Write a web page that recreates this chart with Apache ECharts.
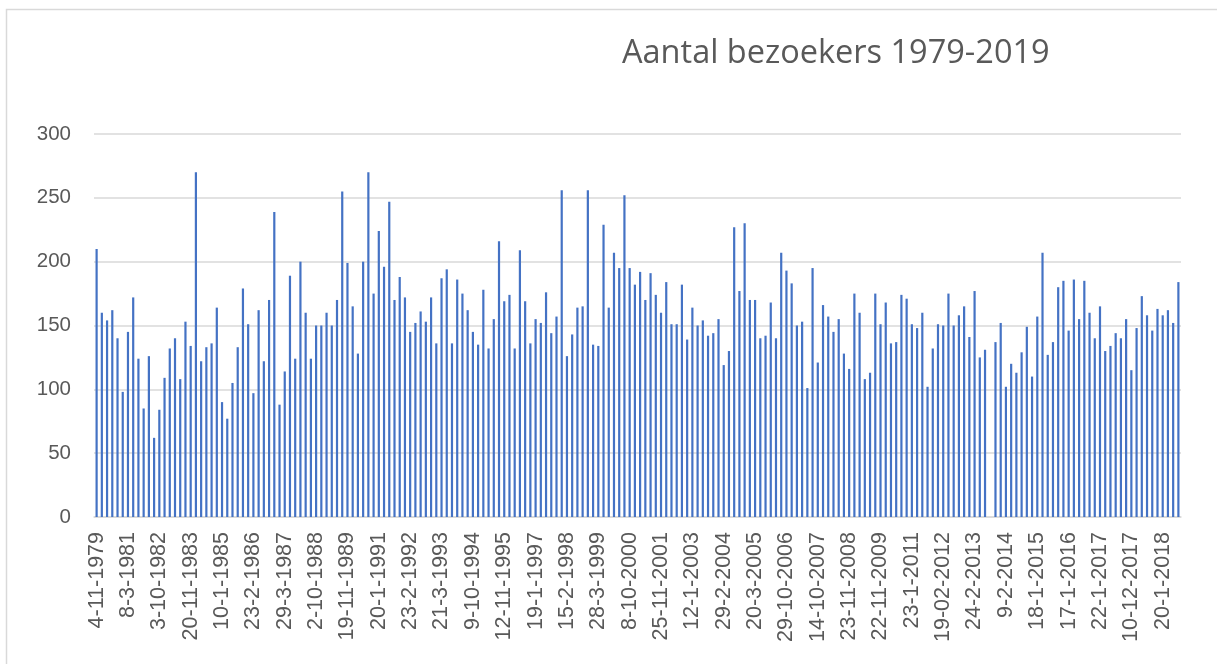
<!DOCTYPE html>
<html>
<head>
<meta charset="utf-8">
<script src="https://cdn.jsdelivr.net/npm/echarts@6/dist/echarts.min.js"></script>
<style>
  html, body { margin: 0; padding: 0; background: #fff; }
  #box { width: 1217px; height: 664px; }
</style>
</head>
<body>
<div id="box"></div>
<script>
// tick labels shown under every 6th bar
var tickLabels = ['4-11-1979', '8-3-1981', '3-10-1982', '20-11-1983', '10-1-1985', '23-2-1986',
    '29-3-1987', '2-10-1988', '19-11-1989', '20-1-1991', '23-2-1992', '21-3-1993',
    '9-10-1994', '12-11-1995', '19-1-1997', '15-2-1998', '28-3-1999', '8-10-2000',
    '25-11-2001', '12-1-2003', '29-2-2004', '20-3-2005', '29-10-2006', '14-10-2007',
    '23-11-2008', '22-11-2009', '23-1-2011', '19-02-2012', '24-2-2013', '9-2-2014',
    '18-1-2015', '17-1-2016', '22-1-2017', '10-12-2017', '20-1-2018']
var labelStep = 6

// visitors per meeting
var visitors1979 = [210, 160, 154, 162, 140, 98, 145, 172, 124, 85, 126, 62, 84, 109, 132, 140, 108, 153,
    134, 270, 122, 133, 136, 164, 90, 77, 105, 133, 179, 151, 97, 162, 122, 170, 239]
var visitors1987 = [88, 114, 189, 124, 200, 160, 124, 150, 150, 160, 150, 170, 255, 199, 165, 128, 200, 270,
    175, 224, 196, 247, 170, 188, 172, 145, 152, 161, 153, 172, 136, 187, 194, 136, 186]
var visitors1994 = [175, 162, 145, 135, 178, 132, 155, 216, 169, 174, 132, 209, 169, 136, 155, 152, 176, 144,
    157, 256, 126, 143, 164, 165, 256, 135, 134, 229, 164, 207, 195, 252, 195, 182, 192, 170]
var visitors2001 = [191, 174, 160, 184, 151, 151, 182, 139, 164, 150, 154, 142, 144, 155, 119, 130, 227, 177,
    230, 170, 170, 140, 142, 168, 140, 207, 193, 183, 150, 153, 101, 195, 121, 166, 157]
var visitors2008 = [145, 155, 128, 116, 175, 160, 108, 113, 175, 151, 168, 136, 137, 174, 171, 151, 148, 160,
    102, 132, 151, 150, 175, 150, 158, 165, 141, 177, 125, 131, null, 137, 152, 102, 120]
var visitors2014 = [113, 129, 149, 110, 157, 207, 127, 137, 180, 185, 146, 186, 155, 185, 160, 140, 165, 130,
    134, 144, 140, 155, 115, 148, 173, 158, 146, 163, 158, 162, 152, 184]

var visitors = [].concat(visitors1979, visitors1987, visitors1994, visitors2001, visitors2008, visitors2014)

var categories = visitors.map(function (v, i) {
    return i % labelStep === 0 ? (tickLabels[i / labelStep] || '') : ''
})

var chart = echarts.init(document.getElementById('box'))

chart.setOption({
    animation: false,
    title: {
        text: 'Aantal bezoekers 1979-2019',
        left: 617,
        top: 32,
        textStyle: {
            fontFamily: 'Open Sans',
            fontSize: 32.5,
            fontWeight: 'normal',
            color: '#595959'
        }
    },
    graphic: [{
        type: 'rect',
        silent: true,
        shape: { x: 6.5, y: 9.5, width: 1240, height: 700 },
        style: { fill: 'none', stroke: '#d9d9d9', lineWidth: 1.5 }
    }],
    grid: {
        left: 94,
        right: 36,
        top: 134,
        bottom: 147
    },
    xAxis: {
        type: 'category',
        data: categories,
        axisLine: { lineStyle: { color: '#d9d9d9', width: 1.5 } },
        axisTick: { show: false },
        axisLabel: {
            interval: 0,
            rotate: 90,
            margin: 15,
            fontFamily: 'Liberation Sans',
            fontSize: 21.5,
            color: '#595959'
        }
    },
    yAxis: {
        type: 'value',
        min: 0,
        max: 300,
        interval: 50,
        axisLine: { show: false },
        axisTick: { show: false },
        axisLabel: {
            margin: 23,
            fontFamily: 'Liberation Sans',
            fontSize: 20.5,
            color: '#595959'
        },
        splitLine: { lineStyle: { color: '#d9d9d9', width: 1.5 } }
    },
    series: [{
        name: 'bezoekers',
        type: 'bar',
        data: visitors,
        barWidth: 2.2,
        itemStyle: { color: '#4472c4' }
    }]
})
</script>
</body>
</html>
